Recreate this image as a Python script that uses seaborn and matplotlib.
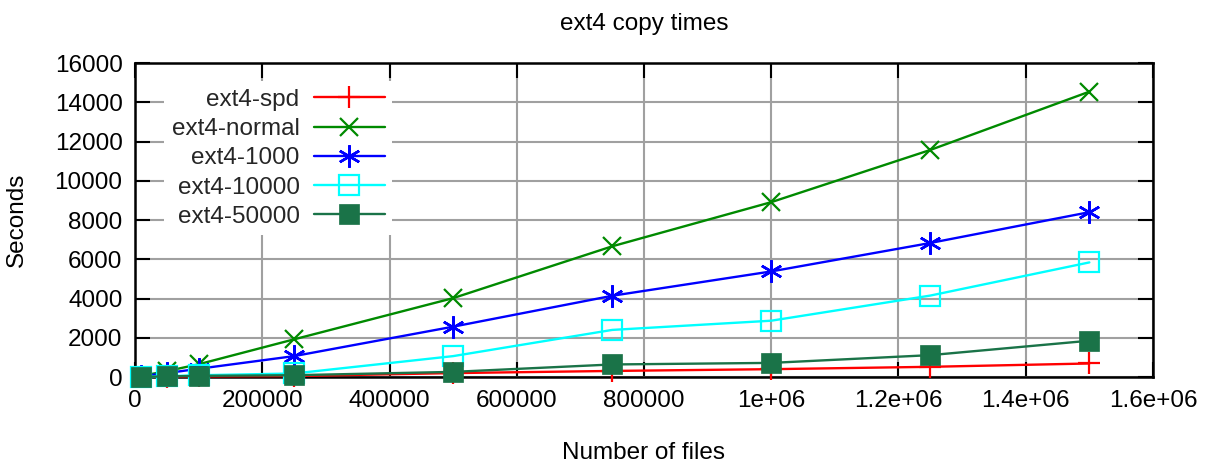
import matplotlib
matplotlib.use("Agg")
import matplotlib.pyplot as plt
import seaborn as sns
import pandas as pd

# Number of files copied
files = [10000, 50000, 100000, 250000, 500000, 750000, 1000000, 1250000, 1500000]

# Copy times in seconds for each configuration
ext4_spd = [10, 20, 30, 50, 200, 310, 400, 520, 690]
ext4_normal = [60, 300, 650, 1920, 4020, 6660, 8910, 11570, 14540]
ext4_1000 = [40, 200, 420, 1065, 2565, 4140, 5380, 6830, 8400]
ext4_10000 = [20, 40, 90, 180, 1065, 2400, 2870, 4150, 5840]
ext4_50000 = [10, 30, 60, 92, 262, 640, 720, 1115, 1850]

series_names = ["ext4-spd", "ext4-normal", "ext4-1000", "ext4-10000", "ext4-50000"]
series_values = [ext4_spd, ext4_normal, ext4_1000, ext4_10000, ext4_50000]

x_ticks = [0, 200000, 400000, 600000, 800000, 1000000, 1200000, 1400000, 1600000]
x_tick_labels = ["0", "200000", "400000", "600000", "800000", "1e+06", "1.2e+06", "1.4e+06", "1.6e+06"]
y_ticks = [0, 2000, 4000, 6000, 8000, 10000, 12000, 14000, 16000]

rows = []
for name, vals in zip(series_names, series_values):
    for f, v in zip(files, vals):
        rows.append({"files": f, "seconds": v, "config": name})
df = pd.DataFrame(rows)

sns.set_theme(style="white")
plt.rcParams["font.family"] = ["Liberation Sans", "DejaVu Sans"]

FS = 17.5

styles = {
    "ext4-spd": dict(color="#ff0000", marker="+", markersize=16, markeredgewidth=1.6,
                     markerfacecolor="#ff0000", markeredgecolor="#ff0000"),
    "ext4-normal": dict(color="#008a00", marker="x", markersize=13, markeredgewidth=1.6,
                        markerfacecolor="#008a00", markeredgecolor="#008a00"),
    "ext4-1000": dict(color="#0000ff", marker=(6, 2, 0), markersize=16, markeredgewidth=1.8,
                      markerfacecolor="#0000ff", markeredgecolor="#0000ff"),
    "ext4-10000": dict(color="#00ffff", marker="s", markersize=14, markeredgewidth=1.6,
                       markerfacecolor="none", markeredgecolor="#00ffff"),
    "ext4-50000": dict(color="#1a7348", marker="s", markersize=15, markeredgewidth=0.5,
                       markerfacecolor="#1a7348", markeredgecolor="#1a7348"),
}

fig = plt.figure(figsize=(12.12, 4.63), dpi=100)
ax = fig.add_axes([0.1114, 0.1857, 0.8399, 0.6782])

for name in series_names:
    sub = df[df["config"] == name]
    sns.lineplot(data=sub, x="files", y="seconds", ax=ax, label=name,
                 linewidth=1.7, clip_on=False, zorder=3, **styles[name])

ax.set_xlim(0, 1600000)
ax.set_ylim(0, 16000)
ax.set_xticks(x_ticks)
ax.set_xticklabels(x_tick_labels)
ax.set_yticks(y_ticks)
ax.set_yticklabels([str(t) for t in y_ticks])

ax.grid(True, color="#a0a0a0", linewidth=1.5, linestyle="-")
ax.set_axisbelow(True)
for s in ax.spines.values():
    s.set_color("black")
    s.set_linewidth(1.8)
    s.set_visible(True)

ax.tick_params(direction="in", length=11, width=1.5, color="black",
               top=True, right=True, bottom=True, left=True,
               labelsize=FS, pad=9, labelcolor="black")

ax.set_title("ext4 copy times", fontsize=FS, pad=24, color="black")
ax.set_xlabel("Number of files", fontsize=FS, labelpad=22, color="black")
ax.set_ylabel("Seconds", fontsize=FS, color="black")
ax.yaxis.set_label_coords(-0.105, 0.5)

leg = ax.legend(loc="upper right", bbox_to_anchor=(0.2643, 0.98), markerfirst=False,
                frameon=True, fontsize=FS, handlelength=2.9, handletextpad=0.6,
                labelspacing=0.3, borderpad=0.3, fancybox=False)
leg.get_frame().set_facecolor("white")
leg.get_frame().set_edgecolor("none")
leg.get_frame().set_alpha(1.0)
leg.set_zorder(2.5)

fig.savefig("out.png", dpi=100)
